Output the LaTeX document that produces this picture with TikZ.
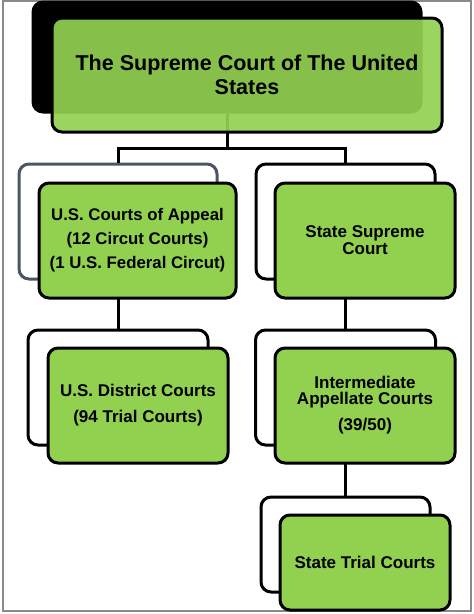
\documentclass[tikz,border=0pt]{standalone}
\usepackage{fontspec}
\setmainfont{Liberation Sans}
\definecolor{boxgreen}{HTML}{92D050}
\definecolor{slateline}{HTML}{4A5566}
\definecolor{framegray}{HTML}{8A8A8A}
\begin{document}
\begin{tikzpicture}[x=1pt,y=-1pt,
  backbox/.style={draw=black, line width=3pt, rounded corners=10pt, fill=white},
  frontbox/.style={draw=black, line width=3pt, rounded corners=10pt, fill=boxgreen, align=center, inner sep=0pt, font=\bfseries},
  conn/.style={draw=black, line width=3pt},
  anchor=center]
\useasboundingbox (0,0) rectangle (474,614);
\draw[framegray, line width=1.5pt] (3,1) rectangle (471,611);
% back boxes
\node[backbox, fill=black, minimum width=388pt, minimum height=110pt] (b0) at (227,57) {};
\node[backbox, draw=slateline, minimum width=198pt, minimum height=115pt] (b1) at (118,221.5) {};
\node[backbox, minimum width=179pt, minimum height=115pt] (b2) at (345.5,221.5) {};
\node[backbox, minimum width=180pt, minimum height=115pt] (b3) at (118,387.5) {};
\node[backbox, minimum width=180pt, minimum height=115pt] (b4) at (345.5,387.5) {};
\node[backbox, minimum width=169pt, minimum height=95pt] (b5) at (345.5,544.5) {};
% connectors
\coordinate (j) at (227,148);
\draw[conn] (b0.south) -- (j);
\draw[conn] (b1.north) |- (j) -| (b2.north);
\draw[conn] (b1.south) -- (b3.north);
\draw[conn] (b2.south) -- (b4.north);
\draw[conn] (b4.south) -- (b5.north);
% front boxes
\node[frontbox, fill opacity=0.92, text opacity=1, minimum width=390pt, minimum height=114pt, font=\bfseries\fontsize{21.5}{24}\selectfont] (f0) at (247,75) {The Supreme Court of The United\\States};
\node[frontbox, minimum width=197pt, minimum height=115pt, font=\bfseries\fontsize{16.8}{24}\selectfont] (f1) at (137.5,240.5) {U.S. Courts of Appeal\\(12 Circut Courts)\\(1 U.S. Federal Circut)};
\node[frontbox, minimum width=180pt, minimum height=115pt, font=\bfseries\fontsize{17}{17}\selectfont] (f2) at (365,240.5) {State Supreme\\Court};
\node[frontbox, minimum width=180pt, minimum height=115pt, font=\bfseries\fontsize{17}{26}\selectfont] (f3) at (138,405.5) {U.S. District Courts\\(94 Trial Courts)};
\node[frontbox, minimum width=180pt, minimum height=115pt, font=\bfseries\fontsize{17}{16}\selectfont] (f4) at (365,405.5) {Intermediate\\Appellate Courts\\[10pt](39/50)};
\node[frontbox, minimum width=170pt, minimum height=95pt, font=\bfseries\fontsize{17}{17}\selectfont] (f5) at (365,562.5) {State Trial Courts};
\end{tikzpicture}
\end{document}
